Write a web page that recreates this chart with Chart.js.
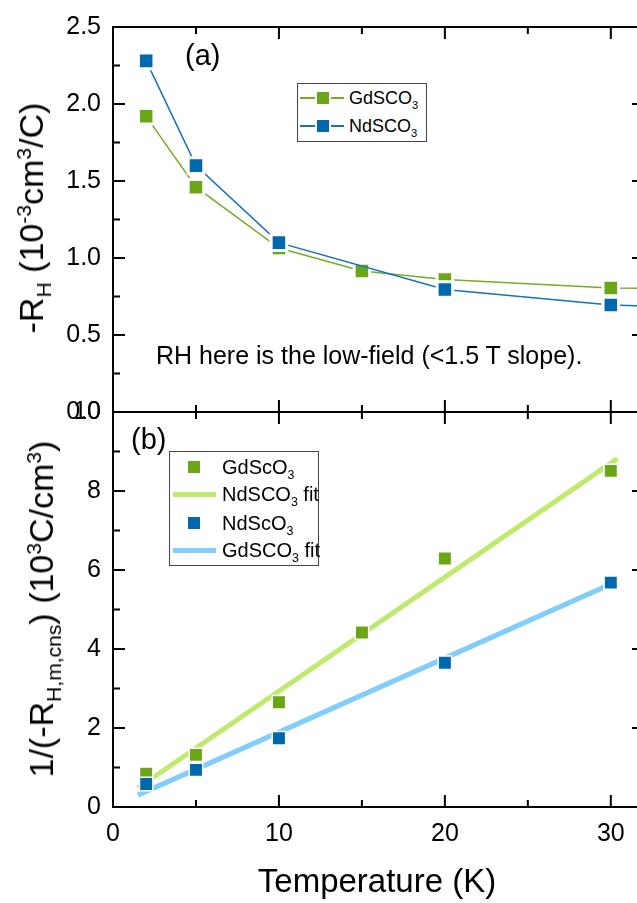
<!DOCTYPE html>
<html>
<head>
<meta charset="utf-8">
<script src="https://cdn.jsdelivr.net/npm/chart.js@4.4.1/dist/chart.umd.min.js"></script>
<style>
  html, body { margin: 0; padding: 0; background: #fff; overflow: hidden; }
  body { width: 637px; height: 903px; position: relative; font-family: 'Liberation Sans', Arial, sans-serif; color: #000; }
  canvas { position: absolute; left: 0; }
  #chartA { top: 0; }
  #chartB { top: 380px; }
  .txt { position: absolute; white-space: nowrap; z-index: 5; }
  sub, sup { font-size: 0.62em; line-height: 0; }
  .ytitle { font-size: 34px; line-height: 34px; transform: translate(-50%, -50%) rotate(-90deg); }
  .legend { position: absolute; border: 1px solid #444; background: #fff; z-index: 5; box-sizing: border-box; }
  .row { position: absolute; left: 0; right: 0; }
  .row .ln { position: absolute; }
  .row .mk { position: absolute; }
  .row .lb { position: absolute; white-space: nowrap; }
</style>
</head>
<body>
<canvas id="chartA" width="660" height="440"></canvas>
<canvas id="chartB" width="660" height="523"></canvas>

<div class="txt" style="left:185px; top:39px; font-size:29px; line-height:32px;">(a)</div>
<div class="txt" style="left:131px; top:423px; font-size:29px; line-height:32px;">(b)</div>
<div class="txt" style="left:156px; top:341px; font-size:25px; line-height:28px;">RH here is the low-field (&lt;1.5 T slope).</div>
<div class="txt" style="left:377px; top:863px; font-size:33px; line-height:36px; transform:translateX(-50%);">Temperature (K)</div>
<div class="txt ytitle" style="left:31px; top:218px;">-R<sub>H</sub> (10<sup>-3</sup>cm<sup>3</sup>/C)</div>
<div class="txt ytitle" style="left:41px; top:609px;">1/(-R<sub>H,m,cns</sub>) (10<sup>3</sup>C/cm<sup>3</sup>)</div>

<div class="legend" id="legendA" style="left:297px; top:83px; width:130px; height:59px;"></div>
<div class="legend" id="legendB" style="left:169px; top:451px; width:150px; height:115px;"></div>

<script>
// panel (a): -R_H vs temperature
const tempGd = [2, 5, 10, 15, 20, 30, 40];
const rhGd = [1.92, 1.46, 1.065, 0.915, 0.86, 0.805, 0.80];
const tempNd = [2, 5, 10, 20, 30, 40];
const rhNd = [2.28, 1.60, 1.10, 0.795, 0.695, 0.66];

// panel (b): 1/(-R_H) and linear fits
const invTempGd = [2, 5, 10, 15, 20, 30];
const invGd = [0.84, 1.32, 2.65, 4.42, 6.29, 8.51];
const invTempNd = [2, 5, 10, 20, 30];
const invNd = [0.58, 0.94, 1.74, 3.65, 5.68];
const fitTempGd = [1.5, 30.4];
const fitGd = [0.48, 8.82];
const fitTempNd = [1.5, 30.3];
const fitNd = [0.30, 5.70];

const xTicks = [0, 10, 20, 30];
const yTicksA = [0, 0.5, 1.0, 1.5, 2.0, 2.5];
const yTicksB = [0, 2, 4, 6, 8, 10];

const gdColor = '#6aa616';
const gdLine = '#74ae22';
const ndColor = '#0068ac';
const ndLine = '#1771b8';
const gdFit = '#bfea6e';
const ndFit = '#82cdfb';

Chart.defaults.font.family = "'Liberation Sans', Arial, sans-serif";
Chart.defaults.color = '#000';

function toXY(xs, ys) {
    return xs.map((x, i) => ({x: x, y: ys[i]}));
}

// frame on all four sides with inward major/minor ticks
const frameTicks = {
    id: 'frameTicks',
    afterDraw(chart, args, opts) {
        const ctx = chart.ctx;
        const a = chart.chartArea;
        const x = chart.scales.x;
        const y = chart.scales.y;
        ctx.save();
        ctx.strokeStyle = '#000';
        ctx.lineWidth = 2;
        ctx.strokeRect(a.left, a.top, a.right - a.left, a.bottom - a.top);
        ctx.beginPath();
        let n = Math.round((x.max - x.min) / opts.xMinor);
        for (let i = 0; i <= n; i++) {
            const v = x.min + i * opts.xMinor;
            const px = x.getPixelForValue(v);
            const len = (i % opts.xEvery === 0) ? 12 : 7;
            ctx.moveTo(px, a.bottom); ctx.lineTo(px, a.bottom - len);
            ctx.moveTo(px, a.top); ctx.lineTo(px, a.top + len);
        }
        n = Math.round((y.max - y.min) / opts.yMinor);
        for (let i = 0; i <= n; i++) {
            const v = y.min + i * opts.yMinor;
            const py = y.getPixelForValue(v);
            const len = (i % 2 === 0) ? 12 : 7;
            ctx.moveTo(a.left, py); ctx.lineTo(a.left + len, py);
            ctx.moveTo(a.right, py); ctx.lineTo(a.right - len, py);
        }
        ctx.stroke();
        ctx.restore();
    }
};

function makeOptions(cfg) {
    return {
        responsive: false,
        animation: false,
        layout: {padding: {left: 0, right: 16, top: cfg.padTop, bottom: 0}},
        plugins: {
            legend: {display: false},
            tooltip: {enabled: false},
            frameTicks: {xMinor: 5, xEvery: 2, yMinor: cfg.yMinor}
        },
        scales: {
            x: {
                type: 'linear', min: 0, max: 32,
                grid: {display: false, drawTicks: false},
                border: {display: false},
                afterBuildTicks: s => { s.ticks = xTicks.map(v => ({value: v})); },
                afterFit: s => { s.height = cfg.xHeight; },
                ticks: {display: cfg.xLabels, font: {size: 25}, color: '#000', padding: 12, maxRotation: 0, autoSkip: false}
            },
            y: {
                type: 'linear', min: 0, max: cfg.yMax,
                grid: {display: false, drawTicks: false},
                border: {display: false},
                afterBuildTicks: s => { s.ticks = cfg.yTicks.map(v => ({value: v})); },
                afterFit: s => { s.width = 113; },
                ticks: {font: {size: 25}, color: '#000', padding: 12, autoSkip: false, callback: cfg.fmt}
            }
        }
    };
}

new Chart(document.getElementById('chartA'), {
    type: 'scatter',
    data: {
        datasets: [{
            label: 'NdSCO3',
            data: toXY(tempNd, rhNd),
            showLine: true,
            borderColor: ndLine,
            borderWidth: 1.5,
            pointStyle: 'rect',
            pointRadius: 11,
            pointBackgroundColor: ndColor,
            pointBorderColor: '#fff',
            pointBorderWidth: 3,
            order: 0
        }, {
            label: 'GdSCO3',
            data: toXY(tempGd, rhGd),
            showLine: true,
            borderColor: gdLine,
            borderWidth: 1.5,
            pointStyle: 'rect',
            pointRadius: 11,
            pointBackgroundColor: gdColor,
            pointBorderColor: '#fff',
            pointBorderWidth: 3,
            order: 1
        }]
    },
    options: makeOptions({padTop: 20, xHeight: 28, xLabels: false, yMax: 2.5, yMinor: 0.25, yTicks: yTicksA, fmt: v => v.toFixed(1)}),
    plugins: [frameTicks]
});

new Chart(document.getElementById('chartB'), {
    type: 'scatter',
    data: {
        datasets: [{
            label: 'NdScO3',
            data: toXY(invTempNd, invNd),
            pointStyle: 'rect',
            pointRadius: 9.5,
            pointBackgroundColor: ndColor,
            pointBorderColor: '#fff',
            pointBorderWidth: 1.5,
            order: 0
        }, {
            label: 'GdScO3',
            data: toXY(invTempGd, invGd),
            pointStyle: 'rect',
            pointRadius: 9.5,
            pointBackgroundColor: gdColor,
            pointBorderColor: '#fff',
            pointBorderWidth: 1.5,
            order: 1
        }, {
            label: 'GdSCO3 fit',
            data: toXY(fitTempNd, fitNd),
            showLine: true,
            borderColor: ndFit,
            borderWidth: 5,
            pointRadius: 0,
            order: 2
        }, {
            label: 'NdSCO3 fit',
            data: toXY(fitTempGd, fitGd),
            showLine: true,
            borderColor: gdFit,
            borderWidth: 5,
            pointRadius: 0,
            order: 3
        }]
    },
    options: makeOptions({padTop: 32, xHeight: 96, xLabels: true, yMax: 10, yMinor: 1, yTicks: yTicksB, fmt: v => String(v)}),
    plugins: [frameTicks]
});

// html legends (they need subscripts)
function legendRow(box, cy, cfg) {
    const row = document.createElement('div');
    row.className = 'row';
    row.style.top = (cy - cfg.lh / 2) + 'px';
    row.style.height = cfg.lh + 'px';
    if (cfg.line) {
        const ln = document.createElement('div');
        ln.className = 'ln';
        ln.style.left = cfg.lineFrom + 'px';
        ln.style.width = (cfg.lineTo - cfg.lineFrom) + 'px';
        ln.style.height = cfg.lineW + 'px';
        ln.style.top = (cfg.lh / 2 - cfg.lineW / 2) + 'px';
        ln.style.background = cfg.line;
        row.appendChild(ln);
    }
    if (cfg.mark) {
        const mk = document.createElement('div');
        mk.className = 'mk';
        mk.style.left = (cfg.markX - cfg.markS / 2 - 2) + 'px';
        mk.style.top = (cfg.lh / 2 - cfg.markS / 2 - 2) + 'px';
        mk.style.width = cfg.markS + 'px';
        mk.style.height = cfg.markS + 'px';
        mk.style.background = cfg.mark;
        mk.style.border = '2px solid #fff';
        row.appendChild(mk);
    }
    const lb = document.createElement('div');
    lb.className = 'lb';
    lb.style.left = cfg.textX + 'px';
    lb.style.top = '0px';
    lb.style.fontSize = cfg.font + 'px';
    lb.style.lineHeight = cfg.lh + 'px';
    lb.innerHTML = cfg.text;
    row.appendChild(lb);
    box.appendChild(row);
}

const legA = document.getElementById('legendA');
const rowA = {lh: 22, font: 18, lineFrom: 2, lineTo: 46, lineW: 1.5, markX: 25, markS: 12, textX: 51};
legendRow(legA, 14, Object.assign({}, rowA, {line: gdLine, mark: gdColor, text: 'GdSCO<sub>3</sub>'}));
legendRow(legA, 42, Object.assign({}, rowA, {line: ndLine, mark: ndColor, text: 'NdSCO<sub>3</sub>'}));

const legB = document.getElementById('legendB');
const rowB = {lh: 24, font: 20, lineFrom: 3, lineTo: 46, lineW: 5, markX: 24, markS: 12, textX: 52};
legendRow(legB, 15, Object.assign({}, rowB, {mark: gdColor, text: 'GdScO<sub>3</sub>'}));
legendRow(legB, 42, Object.assign({}, rowB, {line: gdFit, text: 'NdSCO<sub>3</sub> fit'}));
legendRow(legB, 71, Object.assign({}, rowB, {mark: ndColor, text: 'NdScO<sub>3</sub>'}));
legendRow(legB, 98, Object.assign({}, rowB, {line: ndFit, text: 'GdSCO<sub>3</sub> fit'}));
</script>
</body>
</html>
